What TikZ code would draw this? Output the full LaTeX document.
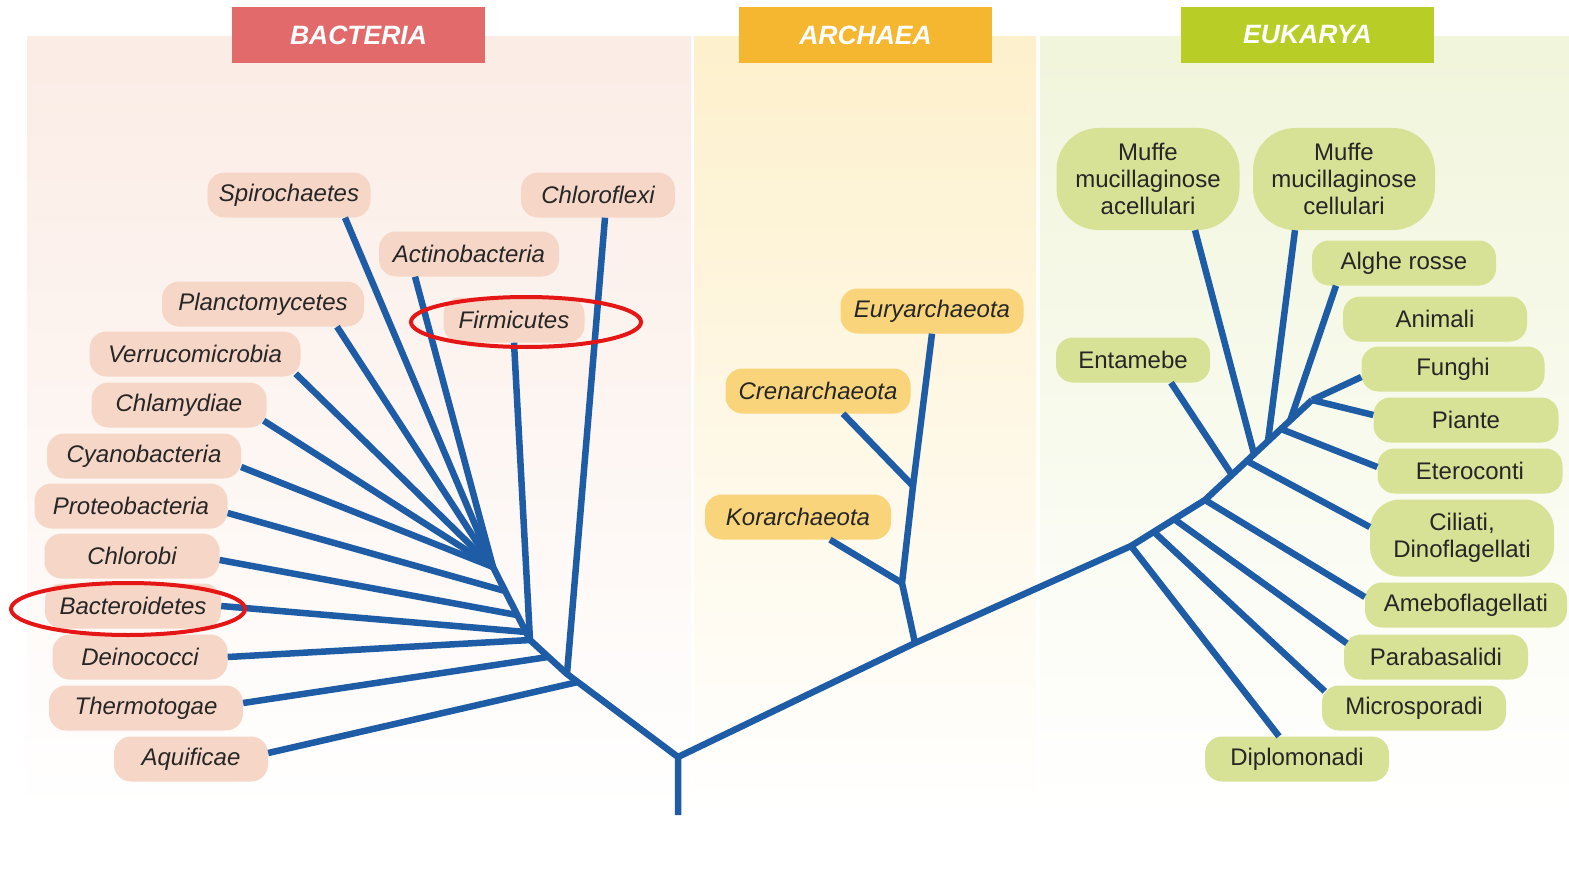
\documentclass[tikz,border=0pt]{standalone}
\usepackage{fontspec}
\setmainfont{Liberation Sans}
\definecolor{treeblue}{RGB}{30,93,166}
\definecolor{bactfill}{RGB}{246,214,199}
\definecolor{archfill}{RGB}{250,212,122}
\definecolor{eukfill}{RGB}{215,226,150}
\definecolor{bacthead}{RGB}{226,106,106}
\definecolor{archhead}{RGB}{245,182,48}
\definecolor{eukhead}{RGB}{184,205,38}
\definecolor{bactpanel}{RGB}{251,236,229}
\definecolor{archpanel}{RGB}{253,240,204}
\definecolor{eukpanel}{RGB}{241,245,219}
\definecolor{ringred}{RGB}{228,22,22}

\begin{document}
\begin{tikzpicture}[x=1pt, y=-1pt,
  branch/.style={treeblue, line width=6.5pt, line join=round},
  taxon/.style={rounded corners=17pt, minimum height=45pt, inner sep=0pt, text=black!85},
  bact/.style={taxon, fill=bactfill, font=\fontsize{24}{27}\selectfont\itshape},
  arch/.style={taxon, fill=archfill, font=\fontsize{24}{27}\selectfont\itshape},
  euk/.style={taxon, fill=eukfill, align=center, font=\fontsize{24}{27}\selectfont},
  head/.style={minimum width=253pt, minimum height=56pt, inner sep=0pt, text=white, font=\fontsize{26.5}{30}\selectfont\bfseries\itshape},
  ring/.style={ringred, line width=4pt}]
\fill[white] (0,0) rectangle (1569,872);
\useasboundingbox (0,0) rectangle (1569,872);
\shade[top color=bactpanel, middle color=bactpanel, bottom color=white] (27,37) rectangle (691,815);
\shade[top color=archpanel, middle color=archpanel, bottom color=white] (694,37) rectangle (1036,815);
\shade[top color=eukpanel, middle color=eukpanel, bottom color=white] (1040,37) rectangle (1569,815);

\node[head, fill=bacthead] (hbact) at (358.5,35) {BACTERIA};
\node[head, fill=archhead] (harch) at (865.5,35) {ARCHAEA};
\node[head, fill=eukhead] (heuk) at (1307.5,35) {EUKARYA};

\node[bact, minimum width=163] (spiro) at (289,195) {Spirochaetes};
\node[bact, minimum width=154] (chlorofl) at (598,195) {Chloroflexi};
\node[bact, minimum width=180] (actino) at (469,254) {Actinobacteria};
\node[bact, minimum width=202] (plancto) at (263,304) {Planctomycetes};
\node[bact, minimum width=141] (firmi) at (514,320) {Firmicutes};
\node[bact, minimum width=211] (verruco) at (195,354) {Verrucomicrobia};
\node[bact, minimum width=175] (chlamy) at (179,405) {Chlamydiae};
\node[bact, minimum width=194] (cyano) at (144,456) {Cyanobacteria};
\node[bact, minimum width=193] (proteo) at (131,506) {Proteobacteria};
\node[bact, minimum width=175] (chlorobi) at (132,556) {Chlorobi};
\node[bact, minimum width=176] (bactero) at (133,606) {Bacteroidetes};
\node[bact, minimum width=175] (deino) at (140,657) {Deinococci};
\node[bact, minimum width=194] (thermo) at (146,708) {Thermotogae};
\node[bact, minimum width=154] (aquif) at (191,759) {Aquificae};

\node[arch, minimum width=183] (eury) at (932,311) {Euryarchaeota};
\node[arch, minimum width=185] (creno) at (818,391) {Crenarchaeota};
\node[arch, minimum width=186] (kor) at (798,517) {Korarchaeota};

\node[euk, minimum width=183, minimum height=102, rounded corners=42pt] (mufa) at (1148,179) {Muffe\\mucillaginose\\acellulari};
\node[euk, minimum width=182, minimum height=102, rounded corners=42pt] (mufc) at (1344,179) {Muffe\\mucillaginose\\cellulari};
\node[euk, minimum width=184] (alghe) at (1404,263) {Alghe rosse};
\node[euk, minimum width=184] (animali) at (1435,319) {Animali};
\node[euk, minimum width=154] (entam) at (1133,360) {Entamebe};
\node[euk, minimum width=183] (funghi) at (1453,369) {Funghi};
\node[euk, minimum width=185] (piante) at (1466,420) {Piante};
\node[euk, minimum width=185] (etero) at (1470,471) {Eteroconti};
\node[euk, minimum width=184, minimum height=77, rounded corners=30pt] (cili) at (1462,538) {Ciliati,\\Dinoflagellati};
\node[euk, minimum width=202] (amebo) at (1466,605) {Ameboflagellati};
\node[euk, minimum width=184] (parab) at (1436,657) {Parabasalidi};
\node[euk, minimum width=184] (micro) at (1414,708) {Microsporadi};
\node[euk, minimum width=184] (diplo) at (1297,759) {Diplomonadi};

\coordinate (root) at (678,815);
\coordinate (r0) at (678,757);
\coordinate (bq) at (578,682);
\coordinate (b0) at (567,674);
\coordinate (bt) at (548,657);
\coordinate (b1) at (530,640);
\coordinate (bs1) at (526,632);
\coordinate (bs2) at (517,615);
\coordinate (bs3) at (505,591);
\coordinate (b2) at (493,567);
\coordinate (a0) at (915,643);
\coordinate (a1) at (902,583);
\coordinate (a2) at (913,486);
\coordinate (e0) at (1131,546);
\coordinate (e1) at (1154,532);
\coordinate (e2) at (1174,519);
\coordinate (e3) at (1205,500);
\coordinate (e4) at (1232,475);
\coordinate (e5) at (1247,461);
\coordinate (e6) at (1254,454);
\coordinate (e7) at (1268,441);
\coordinate (e8) at (1281,429);
\coordinate (e9) at (1290,421);
\coordinate (e10) at (1312,400);

\draw[branch] (root) -- (r0) -- (b0) -- (b1) -- (b2);
\draw[branch] (r0) -- (a0) -- (e0) -- (e3) -- (e10);
\draw[branch] (a0) -- (a1) -- (a2) -- (eury.south);

\draw[branch] ([xshift=7]chlorofl.south) -- (b0);
\draw[branch] ([yshift=6]aquif.east) -- (bq);
\draw[branch] ([yshift=5]thermo.east) -- (bt);
\draw[branch] (deino.east) -- (b1);
\draw[branch] (firmi.south) -- (b1);
\draw[branch] (bactero.east) -- (bs1);
\draw[branch] ([yshift=-4]chlorobi.east) -- (bs2);
\draw[branch] ([yshift=-7]proteo.east) -- (bs3);
\draw[branch] ([yshift=-11]cyano.east) -- (b2);
\draw[branch] ([xshift=-3,yshift=7]chlamy.south east) -- (b2);
\draw[branch] ([xshift=-5,yshift=3]verruco.south east) -- (b2);
\draw[branch] ([xshift=74]plancto.south) -- (b2);
\draw[branch] ([xshift=56]spiro.south) -- (b2);
\draw[branch] ([xshift=-54]actino.south) -- (b2);

\draw[branch] ([xshift=25]creno.south) -- (a2);
\draw[branch] ([xshift=32]kor.south) -- (a1);

\draw[branch] ([xshift=-18]diplo.north) -- (e0);
\draw[branch] ([xshift=3,yshift=-6]micro.north west) -- (e1);
\draw[branch] ([xshift=3,yshift=-9]parab.north west) -- (e2);
\draw[branch] ([yshift=8]amebo.west) -- (e3);
\draw[branch] ([xshift=38]entam.south) -- (e4);
\draw[branch] ([yshift=11]cili.west) -- (e5);
\draw[branch] ([xshift=47]mufa.south) -- (e6);
\draw[branch] ([xshift=-49]mufc.south) -- (e7);
\draw[branch] ([yshift=4]etero.west) -- (e8);
\draw[branch] ([xshift=-68]alghe.south) -- (e9);
\draw[branch] ([yshift=-8]funghi.west) -- (e10);
\draw[branch] ([yshift=5]piante.west) -- (e10);

\draw[ring] ([xshift=12,yshift=-2]firmi.center) ellipse[x radius=115pt, y radius=25pt];
\draw[ring] ([xshift=-5,yshift=-3]bactero.center) ellipse[x radius=117pt, y radius=26pt];
\end{tikzpicture}
\end{document}
